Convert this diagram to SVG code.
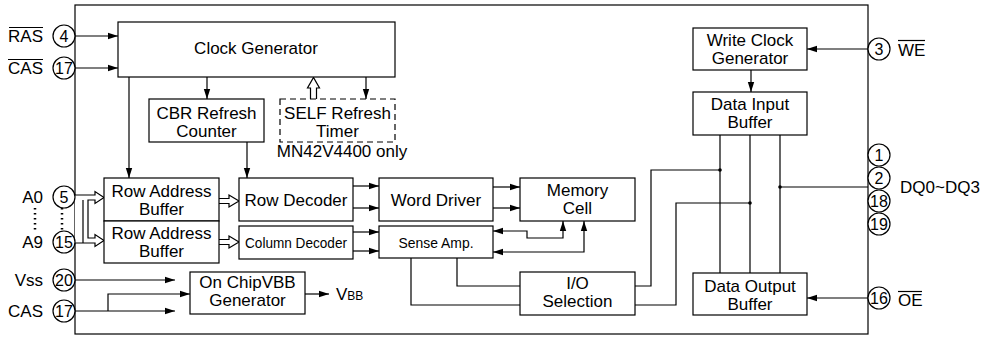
<svg xmlns="http://www.w3.org/2000/svg" width="981" height="338" viewBox="0 0 981 338">
<style>
text{font-family:"Liberation Sans",Arial,sans-serif;font-size:17px;fill:#000}
.c{text-anchor:middle}
.r{text-anchor:end}
.n{font-size:16px;text-anchor:middle}
.s{font-size:15px}
.box{fill:#fff;stroke:#000;stroke-width:1.2}
.dash{fill:#fff;stroke:#000;stroke-width:1.2;stroke-dasharray:6,4}
.ln{fill:none;stroke:#000;stroke-width:1.2}
.ar{fill:none;stroke:#000;stroke-width:1.2;marker-end:url(#a)}
.ar2{fill:none;stroke:#000;stroke-width:1.2;marker-end:url(#a);marker-start:url(#a)}
.hol{fill:#fff;stroke:#000;stroke-width:1.2;stroke-linejoin:miter}
.pin{fill:#fff;stroke:#000;stroke-width:1.2}
.ov{stroke:#000;stroke-width:1.2}
</style>
<defs>
<marker id="a" viewBox="0 0 10 8" refX="10" refY="4" markerWidth="10" markerHeight="8" markerUnits="userSpaceOnUse" orient="auto-start-reverse">
<path d="M0,0.8 L10,4 L0,7.2 Z" fill="#000"/>
</marker>
</defs>

<rect id="chip" x="75" y="5" width="793" height="329" fill="none" stroke="#000" stroke-width="1.2"/>

<g id="connectors">
<path class="ar" d="M75,36 H118"/>
<path class="ar" d="M75,68 H118"/>
<path class="ar" d="M207,77 V99"/>
<path class="ar" d="M129,77 V178"/>
<path class="ar" d="M247,142 V178"/>
<path class="ar" d="M366,77 V99"/>
<path class="hol" d="M310.5,99 V88 H307.5 L313.5,77.5 L319.5,88 H316.5 V99"/>
<path class="ar" d="M353,186 H379"/>
<path class="ar" d="M353,208 H379"/>
<path class="ar" d="M353,232 H379"/>
<path class="ar" d="M353,251 H379"/>
<path class="ar" d="M493,187 H520"/>
<path class="ar" d="M493,208 H520"/>
<path class="ar2" d="M493,231 H527 V238 H563 V221"/>
<path class="ar2" d="M493,252 H584 V221"/>
<path class="ln" d="M457,258 V286 H520"/>
<path class="ln" d="M411,258 V305 H520"/>
<path class="ln" d="M635,286 H651 V170 H720"/>
<path class="ln" d="M635,305 H676 V203 H750"/>
<path class="ln" d="M720,135 V273 M750,135 V273 M780,135 V273"/>
<path class="ln" d="M780,187 H868"/>
<circle cx="720" cy="170" r="1.8"/>
<circle cx="750" cy="203" r="1.8"/>
<circle cx="780" cy="187" r="1.8"/>
<path class="ar" d="M868,49 H807"/>
<path class="ar" d="M751,70 V92"/>
<path class="ar" d="M868,298 H807"/>
<path class="ar" d="M75,280 H175"/>
<path class="ar" d="M75,311 H175"/>
<path class="ar" d="M108,311 V294 H190"/>
<path class="ar" d="M305,294 H329"/>
<path class="hol" d="M75,195 H95 V191.5 L104,197.5 L95,203.5 V200 H88 V238 H95 V234.5 L104,240.5 L95,246.5 V243 H75"/>
<path class="ln" d="M83,200 V243"/>
<path class="hol" d="M219,198.5 H229 V195 L239,201 L229,207 V203.5 H219"/>
<path class="hol" d="M219,239.5 H229 V236 L239,242 L229,248 V244.5 H219"/>
<path d="M35,208 V233 M62,208 V233" stroke="#000" stroke-width="2.5" stroke-dasharray="1.5,3.5" fill="none"/>
</g>

<g id="clock-generator"><rect class="box" x="118" y="22" width="277" height="55"/><text class="c" x="256" y="54">Clock Generator</text></g>
<g id="cbr-refresh-counter"><rect class="box" x="149" y="99" width="115" height="43"/><text class="c" x="206.5" y="119">CBR Refresh</text><text class="c" x="206.5" y="137">Counter</text></g>
<g id="self-refresh-timer"><rect class="dash" x="280" y="99" width="115" height="43"/><text class="c" x="337.5" y="119">SELF Refresh</text><text class="c" x="337.5" y="137">Timer</text><text class="c" x="342" y="157">MN42V4400 only</text></g>
<g id="row-address-buffer-1"><rect class="box" x="104" y="178" width="115" height="43"/><text class="c" x="161.5" y="197">Row Address</text><text class="c" x="161.5" y="215">Buffer</text></g>
<g id="row-address-buffer-2"><rect class="box" x="104" y="221" width="115" height="42"/><text class="c" x="161.5" y="239">Row Address</text><text class="c" x="161.5" y="257">Buffer</text></g>
<g id="row-decoder"><rect class="box" x="239" y="178" width="114" height="43"/><text class="c" x="296" y="206">Row Decoder</text></g>
<g id="column-decoder"><rect class="box" x="239" y="226" width="114" height="33"/><text class="c s" x="296" y="248" textLength="102" lengthAdjust="spacingAndGlyphs">Column Decoder</text></g>
<g id="word-driver"><rect class="box" x="379" y="178" width="114" height="43"/><text class="c" x="436" y="206">Word Driver</text></g>
<g id="sense-amp"><rect class="box" x="379" y="226" width="114" height="32"/><text class="c s" x="436" y="248" textLength="75" lengthAdjust="spacingAndGlyphs">Sense Amp.</text></g>
<g id="memory-cell"><rect class="box" x="520" y="178" width="115" height="43"/><text class="c" x="577.5" y="196">Memory</text><text class="c" x="577.5" y="214">Cell</text></g>
<g id="io-selection"><rect class="box" x="520" y="272" width="115" height="43"/><text class="c" x="577.5" y="289">I/O</text><text class="c" x="577.5" y="307">Selection</text></g>
<g id="vbb-generator"><rect class="box" x="190" y="272" width="115" height="42"/><text class="c" x="247.5" y="288">On ChipVBB</text><text class="c" x="247.5" y="306">Generator</text></g>
<g id="vbb-label"><text x="336" y="300">V<tspan font-size="12">BB</tspan></text></g>
<g id="write-clock-generator"><rect class="box" x="693" y="28" width="114" height="42"/><text class="c" x="750" y="46">Write Clock</text><text class="c" x="750" y="64">Generator</text></g>
<g id="data-input-buffer"><rect class="box" x="693" y="92" width="114" height="43"/><text class="c" x="750" y="110">Data Input</text><text class="c" x="750" y="128">Buffer</text></g>
<g id="data-output-buffer"><rect class="box" x="693" y="273" width="114" height="42"/><text class="c" x="750" y="292">Data Output</text><text class="c" x="750" y="310">Buffer</text></g>

<g id="pin-ras"><circle class="pin" cx="64" cy="36" r="11"/><text class="n" x="64" y="42">4</text><text class="r" x="43" y="42">RAS</text><line class="ov" x1="9" y1="27.5" x2="43" y2="27.5"/></g>
<g id="pin-cas"><circle class="pin" cx="64" cy="68" r="11"/><text class="n" x="64" y="74">17</text><text class="r" x="43" y="74">CAS</text><line class="ov" x1="8" y1="59.5" x2="43" y2="59.5"/></g>
<g id="pin-a0"><circle class="pin" cx="64" cy="197" r="11"/><text class="n" x="64" y="203">5</text><text class="r" x="43" y="203">A0</text></g>
<g id="pin-a9"><circle class="pin" cx="64" cy="242" r="11"/><text class="n" x="64" y="248">15</text><text class="r" x="43" y="248">A9</text></g>
<g id="pin-vss"><circle class="pin" cx="64" cy="280" r="11"/><text class="n" x="64" y="286">20</text><text class="r" x="43" y="286">Vss</text></g>
<g id="pin-cas2"><circle class="pin" cx="64" cy="311" r="11"/><text class="n" x="64" y="317">17</text><text class="r" x="43" y="317">CAS</text></g>
<g id="pin-we"><circle class="pin" cx="879" cy="49" r="11"/><text class="n" x="879" y="55">3</text><text x="898" y="56">WE</text><line class="ov" x1="898" y1="40.5" x2="925" y2="40.5"/></g>
<g id="pin-dq"><circle class="pin" cx="879" cy="155" r="11"/><text class="n" x="879" y="161">1</text><circle class="pin" cx="879" cy="178" r="11"/><text class="n" x="879" y="184">2</text><circle class="pin" cx="879" cy="201" r="11"/><text class="n" x="879" y="207">18</text><circle class="pin" cx="879" cy="224" r="11"/><text class="n" x="879" y="230">19</text><text x="900" y="193">DQ0~DQ3</text></g>
<g id="pin-oe"><circle class="pin" cx="879" cy="298" r="11"/><text class="n" x="879" y="304">16</text><text x="898" y="306">OE</text><line class="ov" x1="898" y1="291.5" x2="922" y2="291.5"/></g>
</svg>
